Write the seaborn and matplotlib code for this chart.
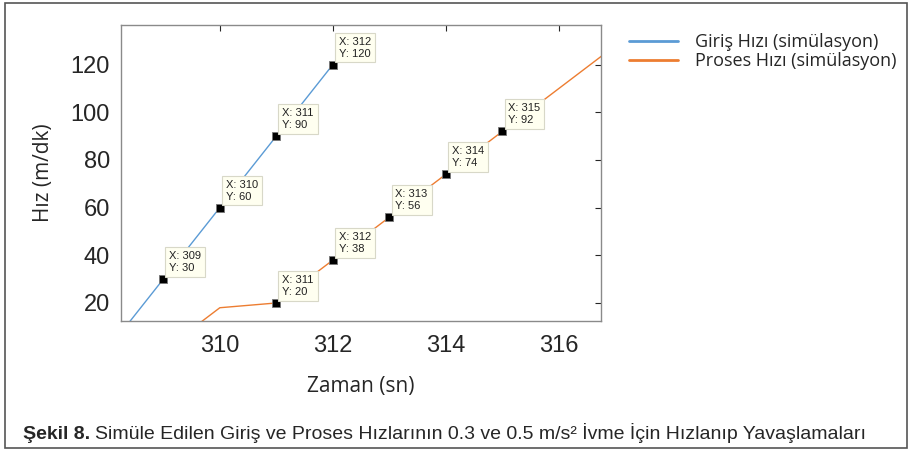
import matplotlib
matplotlib.use("Agg")
import matplotlib.pyplot as plt
import pandas as pd
import seaborn as sns
from matplotlib.patches import Rectangle

# Giriş hızı (simülasyon)
giris_t = [308, 309, 310, 311, 312]
giris_v = [0, 30, 60, 90, 120]

# Proses hızı (simülasyon)
proses_t = [309, 310, 311, 312, 313, 314, 315, 316, 317]
proses_v = [0, 18, 20, 38, 56, 74, 92, 110, 128]

# data tip points
tip_x = [309, 310, 311, 312, 311, 312, 313, 314, 315]
tip_y = [30, 60, 90, 120, 20, 38, 56, 74, 92]

series_names = ["Giriş Hızı (simülasyon)", "Proses Hızı (simülasyon)"]
colors = ["#5B9BD5", "#ED7D31"]

sns.set_style("white")
plt.rcParams["font.family"] = ["Liberation Sans", "DejaVu Sans"]

df = pd.concat([
    pd.DataFrame({"t": giris_t, "v": giris_v, "seri": series_names[0]}),
    pd.DataFrame({"t": proses_t, "v": proses_v, "seri": series_names[1]}),
])
tips = pd.DataFrame({"x": tip_x, "y": tip_y})

fig = plt.figure(figsize=(9.09, 4.5), dpi=100)
ax = fig.add_axes([0.133, 0.287, 0.528, 0.657])

sns.lineplot(data=df, x="t", y="v", hue="seri", palette=colors, linewidth=1.0,
             ax=ax, legend=False, sort=False, estimator=None)
sns.scatterplot(data=tips, x="x", y="y", marker="s", s=40, color="black",
                edgecolor="#777777", linewidth=0.6, ax=ax, zorder=5)

for x, y in zip(tip_x, tip_y):
    ax.annotate(f"X: {x}\nY: {y}", xy=(x, y), xytext=(6, 6), textcoords="offset pixels",
                ha="left", va="bottom", fontsize=8, color="#222222", linespacing=1.25,
                bbox=dict(boxstyle="square,pad=0.35", fc="#FFFFF0", ec="#D8D8C8", lw=0.8),
                zorder=6)

ax.set_xlim(308.25, 316.74)
ax.set_ylim(12.5, 136.5)
ax.set_xticks([310, 312, 314, 316])
ax.set_yticks([20, 40, 60, 80, 100, 120])
ax.tick_params(axis="both", direction="in", length=4, labelsize=17, colors="#262626",
               top=True, right=True, pad=8)
ax.tick_params(axis="x", pad=10)
for sp in ax.spines.values():
    sp.set_color("#8a8a8a")
    sp.set_linewidth(1.0)
ax.set_xlabel("Zaman (sn)", fontsize=15, family=["Open Sans", "DejaVu Sans"], labelpad=14)
ax.set_ylabel("Hız (m/dk)", fontsize=15, family=["Open Sans", "DejaVu Sans"], labelpad=12)

handles = [plt.Line2D([], [], color=c, lw=2) for c in colors]
fig.legend(handles, series_names, loc="upper left", bbox_to_anchor=(0.674, 0.962),
           frameon=False, handlelength=2.7, handletextpad=0.95, labelspacing=0.05,
           prop={"family": ["Open Sans", "DejaVu Sans"], "size": 13})

caption_font = ["Liberation Sans Narrow", "Liberation Sans", "DejaVu Sans"]
fig.text(0.025, 0.025, "Şekil 8.", fontsize=14, fontweight="bold", family=caption_font)
fig.text(0.104, 0.025, "Simüle Edilen Giriş ve Proses Hızlarının 0.3 ve 0.5 m/s² İvme İçin Hızlanıp Yavaşlamaları",
         fontsize=14, family=caption_font)

fig.patches.append(Rectangle((0.006, 0.004), 0.992, 0.99, transform=fig.transFigure,
                             fill=False, ec="#555555", lw=1.2))

fig.savefig("out.png", dpi=100)
